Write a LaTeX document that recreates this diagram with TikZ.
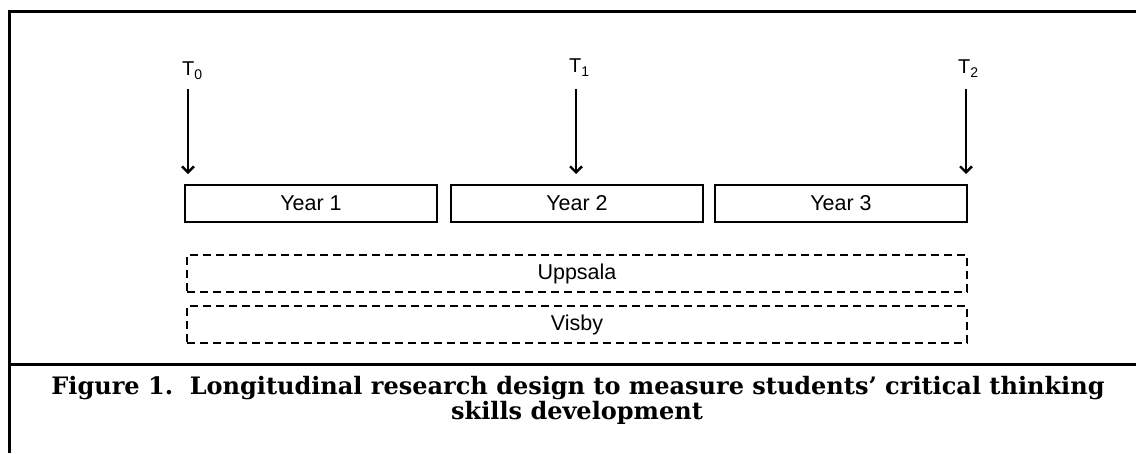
\documentclass[tikz,border=0pt]{standalone}
\usepackage{fontspec}
\setmainfont{Liberation Sans}
\newfontfamily\capfont{DejaVu Serif}
\usetikzlibrary{arrows.meta}
\tikzset{
  frameline/.style={line width=3pt},
  yearbox/.style={draw, line width=2.2pt, minimum width=252pt, minimum height=37pt, inner sep=0pt, font=\fontsize{21.5}{24}\selectfont},
  sitebox/.style={draw, dash pattern=on 8pt off 5pt, line width=2.2pt, minimum width=780pt, minimum height=37pt, inner sep=0pt, font=\fontsize{21.5}{24}\selectfont},
  tarrow/.style={line width=2.4pt, -{Straight Barb[length=6pt,width=12pt,line width=2.4pt]}},
  tlabel/.style={inner sep=0pt, font=\fontsize{20}{22}\selectfont},
  captext/.style={inner sep=0pt, font=\capfont\bfseries\fontsize{24}{27}\selectfont}
}
\newcommand{\tsub}[1]{T\raisebox{-4pt}{\fontsize{14}{14}\selectfont #1}}
\begin{document}
\begin{tikzpicture}[x=1pt,y=-1pt]
\useasboundingbox (0,0) rectangle (1136,453);
% frame
\draw[frameline] (1136,11) -- (9,11) -- (9,453);
\draw[frameline] (9,364) -- (1136,364);
% year boxes
\node[yearbox] (y1) at (311,203.5) {Year 1};
\node[yearbox] (y2) at (577,203.5) {Year 2};
\node[yearbox] (y3) at (841,203.5) {Year 3};
% site boxes
\node[sitebox] (upp) at (577,273.5) {Uppsala};
\node[sitebox] (vis) at (577,324.5) {Visby};
% time labels
\node[tlabel, anchor=base west] (t0) at (182,75) {\tsub{0}};
\node[tlabel, anchor=base west] (t1) at (569,72) {\tsub{1}};
\node[tlabel, anchor=base west] (t2) at (958,73) {\tsub{2}};
% arrows
\coordinate (a0s) at (188,89); \coordinate (a0e) at (188,174);
\coordinate (a1s) at (576,89); \coordinate (a1e) at (576,174);
\coordinate (a2s) at (966,89); \coordinate (a2e) at (966,174);
\draw[tarrow] (a0s) -- (a0e);
\draw[tarrow] (a1s) -- (a1e);
\draw[tarrow] (a2s) -- (a2e);
% caption
\node[captext, anchor=base] (cap1) at (578,394) {Figure 1.\ \ Longitudinal research design to measure students’ critical thinking};
\node[captext, anchor=base] (cap2) at (577,419) {skills development};
\end{tikzpicture}
\end{document}
